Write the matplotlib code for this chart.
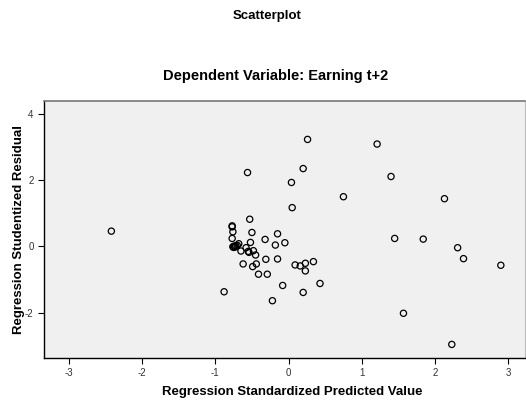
import matplotlib
matplotlib.use("Agg")
import matplotlib.pyplot as plt

plt.rcParams['font.family'] = ['Liberation Sans', 'DejaVu Sans']
plt.rcParams['axes.unicode_minus'] = False

pred = [-2.42, -0.88, -0.77, -0.77, -0.76, -0.77, -0.76, -0.74, -0.75, -0.72,
        -0.73, -0.70, -0.68, -0.65, -0.58, -0.55, -0.54, -0.48, -0.45, -0.53,
        -0.56, -0.50, -0.52, -0.62, -0.49, -0.44, -0.41, -0.29, -0.31, -0.32,
        -0.15, -0.15, -0.18, -0.05, -0.08, -0.22, 0.04, 0.05, 0.09, 0.16,
        0.23, 0.23, 0.34, 0.43, 0.20, 0.20, 0.26, 0.75, 1.21, 1.40,
        1.45, 1.57, 1.84, 2.13, 2.23, 2.31, 2.39, 2.90]
resid = [0.46, -1.37, 0.62, 0.59, 0.44, 0.24, -0.01, 0.01, -0.03, 0.02,
         -0.02, 0.03, 0.08, -0.14, -0.04, -0.15, -0.18, -0.13, -0.26, 0.82,
         2.23, 0.42, 0.12, -0.53, -0.61, -0.53, -0.84, -0.84, -0.39, 0.21,
         0.38, -0.38, 0.04, 0.11, -1.18, -1.64, 1.93, 1.17, -0.56, -0.59,
         -0.51, -0.74, -0.46, -1.12, -1.39, 2.35, 3.23, 1.50, 3.09, 2.11,
         0.24, -2.02, 0.22, 1.44, -2.96, -0.04, -0.37, -0.57]
xticks = [-3, -2, -1, 0, 1, 2, 3]
yticks = [-2, 0, 2, 4]

fig = plt.figure(figsize=(5.26, 4.03), dpi=100)
ax = fig.add_axes([44/526, 45/403, 481/526, 257/403])
ax.set_facecolor('#F0F0F0')
ax.scatter(pred, resid, s=20, facecolors='none', edgecolors='black', linewidths=0.9, zorder=3)
ax.set_xlim(-3.34, 3.23)
ax.set_ylim(-3.37, 4.39)
ax.set_xticks(xticks)
ax.set_yticks(yticks)
ax.tick_params(labelsize=7, length=4, width=0.8, direction='out', colors='black', labelcolor='#333333')
for s in ['left', 'bottom']:
    ax.spines[s].set_color('black')
    ax.spines[s].set_linewidth(1.0)
ax.spines['top'].set_color('#777777')
ax.spines['top'].set_linewidth(1.2)
ax.spines['right'].set_color('#bbbbbb')
ax.spines['right'].set_linewidth(0.8)

ax.set_xlabel('Regression Standardized Predicted Value', fontsize=9.5, fontweight='bold')
ax.set_ylabel('Regression Studentized Residual', fontsize=9.5, fontweight='bold')
ax.xaxis.set_label_coords(0.516, -0.11)
ax.yaxis.set_label_coords(-0.04, 0.5)

fig.text(267/526, 1 - 16/403, 'Scatterplot', ha='center', va='center', fontsize=9.5, fontweight='bold')
fig.text(276/526, 1 - 76/403, 'Dependent Variable: Earning t+2', ha='center', va='center', fontsize=10.5, fontweight='bold')

fig.savefig('out.png', dpi=100)
